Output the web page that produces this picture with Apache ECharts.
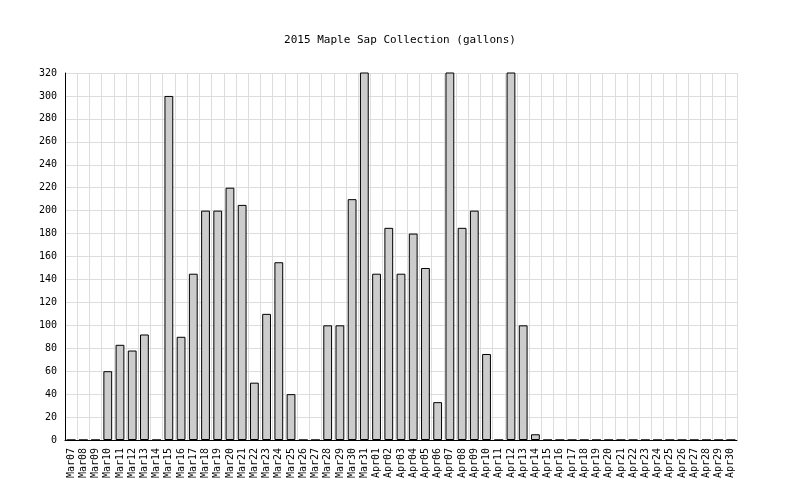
<!DOCTYPE html><html><head><meta charset="utf-8"><script src="https://cdn.jsdelivr.net/npm/echarts@6/dist/echarts.min.js"></script></head><body style="margin:0;background:#fff"><div id="c" style="width:800px;height:500px"></div><script>
const categories=[];
for(let d=7;d<=31;d++)categories.push('Mar'+String(d).padStart(2,'0'));
for(let d=1;d<=30;d++)categories.push('Apr'+String(d).padStart(2,'0'));
const gallons=[0,0,0,60,83,78,92,0,300,90,145,200,200,220,205,50,110,155,40,0,0,100,100,210,340,
145,185,145,180,150,33,340,185,200,75,0,340,100,5,0,0,0,0,0,0,0,0,0,0,0,0,0,0,0,0];
const yTicks={min:0,max:320,interval:20};
const f='DejaVu Sans Mono';
echarts.init(document.getElementById('c')).setOption({animation:false,
title:{text:'2015 Maple Sap Collection (gallons)',left:'center',top:30,textStyle:{fontFamily:f,fontSize:11,fontWeight:'normal',color:'#000'}},
grid:{left:65,right:63,top:73,bottom:60},
xAxis:{type:'category',data:categories,axisTick:{show:false},axisLine:{lineStyle:{color:'#000'}},
axisLabel:{rotate:90,interval:0,fontFamily:f,fontSize:10,color:'#000'},
splitLine:{show:true,interval:0,lineStyle:{color:'#ddd'}}},
yAxis:{type:'value',...yTicks,axisLine:{show:true,lineStyle:{color:'#000'}},axisTick:{show:false},
axisLabel:{fontFamily:f,fontSize:10,color:'#000'},splitLine:{lineStyle:{color:'#ddd'}}},
series:[{type:'bar',data:gallons,barWidth:'72%',clip:true,itemStyle:{color:'#ccc',borderColor:'#000',borderWidth:1}}]});
</script></body></html>
